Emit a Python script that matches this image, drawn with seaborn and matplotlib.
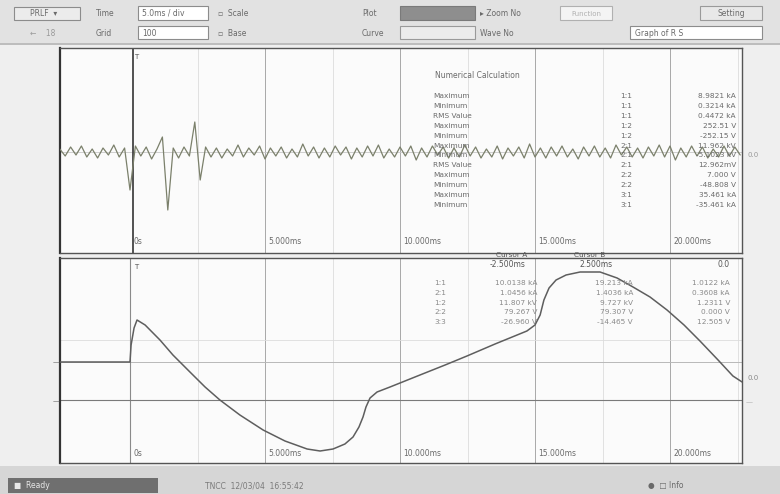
import numpy as np
import pandas as pd
import matplotlib
matplotlib.use("Agg")
import matplotlib.pyplot as plt
import seaborn as sns
from matplotlib.patches import Rectangle

sns.set_theme(style="white")
plt.rcParams['font.family'] = ['DejaVu Sans']

# ---------------- data ----------------
# top channel: noise trace (time in ms, amplitude in div-units)
noise_step_ms = 0.2
noise_v = [0.3, -0.4, 0.5, -0.3, 0.6, -0.5, 0.3, -0.6, 0.4, -0.3, 0.7, -0.5, 0.4,
           -3.8, 0.6, -0.4, 0.5, -0.7, 0.3, 1.5, -5.8, 0.4, -0.6, 0.5, -0.4, 3.0, -2.8, 0.5,
           -0.5, 0.4, -0.6, 0.3, -0.4, 0.7, -0.5, 0.4, -0.3, 0.6,
           -0.7, 0.4, -0.4, 0.5, -0.6, 0.3, -0.5, 0.8, -0.4, 0.5,
           -0.6, 0.4, -0.5, 0.6, -0.3, 0.5, -0.7, 0.4, -0.5, 0.6,
           -0.4, 0.7, -0.6, 0.3, -0.5, 0.5, -0.4, 0.6, -0.8, 0.4,
           -0.5, 0.6, -0.3, 0.5, -0.6, 0.4, -0.5, 0.7, -0.4, 0.5,
           -0.6, 0.3, -0.5, 0.6, -0.7, 0.4, -0.4, 0.5, -0.6, 0.8,
           -0.5, 0.4, -0.6, 0.5, -0.4, 0.6, -0.5, 0.3, -0.7, 0.5,
           -0.4, 0.6, -0.5, 0.4, -0.6, 0.7, -0.3, 0.5, -0.5, 0.4,
           -0.6, 0.5, -0.4, 0.7, -0.5, 0.6, -0.8, 0.4, -0.5, 0.6,
           -0.4, 0.5, -0.6, 0.3, -0.5, 0.6, -0.4, 0.5, -0.3]
noise_t = np.round(-2.6 + noise_step_ms * np.arange(len(noise_v)), 2)

# bottom channel: waveform
wave_t = [-2.59, -0.07, 0.0, 0.04, 0.15, 0.26, 0.56, 1.11, 1.59, 2.22, 2.78, 3.33, 4.07,
          4.93, 5.74, 6.56, 7.04, 7.52, 7.96, 8.26, 8.48, 8.63, 8.74, 8.89, 9.15, 9.63,
          10.0, 10.74, 11.67, 12.48, 13.52, 14.7, 15.0, 15.19, 15.33, 15.52, 15.78, 16.15,
          16.67, 17.41, 18.04, 18.63, 19.26, 19.89, 20.52, 21.11, 21.78, 22.33, 22.67]
wave_v = [3.8, 3.8, 3.8, 5.5, 7.2, 8.0, 7.5, 6.0, 4.5, 2.8, 1.3, 0.0, -1.5,
          -3.0, -4.1, -4.9, -5.1, -4.9, -4.4, -3.7, -2.7, -1.7, -0.7, 0.2, 0.8, 1.3,
          1.7, 2.5, 3.5, 4.4, 5.6, 6.9, 7.5, 8.5, 10.0, 11.2, 12.0, 12.5,
          12.8, 12.8, 12.2, 11.3, 10.3, 9.0, 7.5, 5.9, 4.0, 2.4, 1.8]

tick_ms = [0, 5, 10, 15, 20]
tick_labels = ["0s", "5.000ms", "10.000ms", "15.000ms", "20.000ms"]

calc_names = ["Maximum", "Minimum", "RMS Value", "Maximum", "Minimum", "Maximum",
              "Minimum", "RMS Value", "Maximum", "Minimum", "Maximum", "Minimum"]
calc_ch = ["1:1", "1:1", "1:1", "1:2", "1:2", "2:1", "2:1", "2:1", "2:2", "2:2", "3:1", "3:1"]
calc_vals = ["8.9821 kA", "0.3214 kA", "0.4472 kA", "252.51 V", "-252.15 V", "11.962 kV",
             "-5.1023 kV", "12.962mV", "7.000 V", "-48.808 V", "35.461 kA", "-35.461 kA"]

cur_ch = ["1:1", "2:1", "1:2", "2:2", "3:3"]
cur_a = ["10.0138 kA", "1.0456 kA", "11.807 kV", "79.267 V", "-26.960 V"]
cur_b = ["19.213 kA", "1.4036 kA", "9.727 kV", "79.307 V", "-14.465 V"]
cur_d = ["1.0122 kA", "0.3608 kA", "1.2311 V", "0.000 V", "12.505 V"]

# ---------------- figure ----------------
W, H = 780, 494
fig = plt.figure(figsize=(W / 100, H / 100), dpi=100)
fig.patch.set_facecolor("#efefef")

def fx(x):
    return x / W

def fy(y):
    return 1 - y / H

def rect(x0, y0, x1, y1, fc, ec="none", lw=0.8, z=0):
    fig.patches.append(Rectangle((fx(x0), fy(y1)), fx(x1) - fx(x0), fy(y0) - fy(y1),
                                 transform=fig.transFigure, fc=fc, ec=ec, lw=lw, zorder=z))

def ftext(x, y, s, size=5.5, color="#6a6a6a", ha="left", va="center", **kw):
    fig.text(fx(x), fy(y), s, fontsize=size, color=color, ha=ha, va=va, **kw)

# toolbar
rect(0, 0, 780, 44, "#e2e2e2")
rect(0, 43, 780, 45, "#bdbdbd")
rect(14, 7, 80, 20, "#ececec", "#8c8c8c")
ftext(30, 13.5, "PRLF  ▾", 5.5)
ftext(30, 33, "←    18", 5.5, color="#9a9a9a")
ftext(96, 13.5, "Time", 5.5)
ftext(96, 33, "Grid", 5.5)
rect(138, 6, 208, 20, "white", "#8c8c8c")
ftext(142, 13.5, "5.0ms / div", 5.5)
rect(138, 26, 208, 39, "white", "#8c8c8c")
ftext(142, 33, "100", 5.5)
ftext(218, 13.5, "▫  Scale", 5.5)
ftext(218, 33, "▫  Base", 5.5)
ftext(362, 13.5, "Plot", 5.5)
ftext(362, 33, "Curve", 5.5)
rect(400, 6, 475, 20, "#8e8e8e", "#7a7a7a")
rect(400, 26, 475, 39, "#ececec", "#9a9a9a")
ftext(480, 13.5, "▸ Zoom No", 5.5)
ftext(480, 33, "Wave No", 5.5)
rect(560, 6, 612, 20, "#f4f4f4", "#b0b0b0")
ftext(586, 13.5, "Function", 5.0, color="#b0b0b0", ha="center")
rect(630, 26, 762, 39, "white", "#8c8c8c")
ftext(635, 33, "Graph of R S", 5.5)
rect(700, 6, 762, 20, "#e8e8e8", "#9a9a9a")
ftext(731, 13.5, "Setting", 5.5, ha="center")

# status bar
rect(0, 466, 780, 494, "#d6d6d6")
rect(8, 478, 158, 493, "#6f6f6f")
ftext(14, 485.5, "■  Ready", 5.5, color="#e8e8e8")
ftext(205, 485.5, "TNCC  12/03/04  16:55:42", 5.5, color="#7a7a7a")
ftext(648, 485.5, "●  □ Info", 5.5, color="#6a6a6a")

# ---------------- axes ----------------
xlim = ((60 - 130) / 27, (742 - 130) / 27)
ax_top = fig.add_axes([fx(60), fy(253), fx(742) - fx(60), fy(48) - fy(253)])
ax_bot = fig.add_axes([fx(60), fy(463), fx(742) - fx(60), fy(258) - fy(463)])

grid_major = "#a8a8a8"
grid_minor = "#dcdcdc"
for ax in (ax_top, ax_bot):
    ax.set_facecolor("#fbfbfb")
    ax.set_xlim(*xlim)
    ax.set_xticks([])
    ax.set_yticks([])
    for s in ax.spines.values():
        s.set_color("#555555")
        s.set_linewidth(1.0)
    ax.spines["left"].set_linewidth(1.6)
    ax.spines["left"].set_color("#333333")
    for m in [2.5, 7.5, 12.5, 17.5, 22.5]:
        ax.axvline(m, color=grid_minor, lw=0.6, zorder=0)
    for m in tick_ms[1:]:
        ax.axvline(m, color=grid_major, lw=0.7, zorder=0)

ax_top.set_ylim(-10.1, 10.4)
ax_bot.set_ylim(-6.3, 14.2)

# top trace
df_top = pd.DataFrame({"t": noise_t, "v": noise_v})
ax_top.axvline(0.1, color="#444444", lw=1.3, zorder=1)
ax_top.axhline(0, color="#c8c8c8", lw=0.6, zorder=0)
sns.lineplot(data=df_top, x="t", y="v", ax=ax_top, color="#7b806b", lw=0.9,
             estimator=None, sort=False, zorder=3)
ax_top.set_xlabel("")
ax_top.set_ylabel("")

# bottom trace
df_bot = pd.DataFrame({"t": wave_t, "v": wave_v})
ax_bot.axvline(0.0, color="#8a8a8a", lw=0.8, zorder=1)
ax_bot.axhline(0, color="#7a7a7a", lw=0.8, zorder=1)
ax_bot.axhline(3.8, color="#b8b8b8", lw=0.7, zorder=0)
ax_bot.axhline(6.0, color=grid_minor, lw=0.6, zorder=0)
sns.lineplot(data=df_bot, x="t", y="v", ax=ax_bot, color="#5e5e5e", lw=1.1,
             estimator=None, sort=False, zorder=3)
ax_bot.set_xlabel("")
ax_bot.set_ylabel("")

# time labels
for ax, ytxt in ((ax_top, -9.0), (ax_bot, -5.3)):
    for t, lab in zip(tick_ms, tick_labels):
        ax.text(t + 0.12, ytxt, lab, fontsize=5.5, color="#6a6a6a", ha="left", va="center")
    ax.text(0.15, ax.get_ylim()[1] - 0.9, "T", fontsize=5, color="#555555", ha="left", va="center")

# side markers
ftext(56, 362, "—", 5, color="#555555", ha="center")
ftext(56, 401, "—", 5, color="#555555", ha="center")
ftext(747, 378, "0.0", 5, color="#888888")
ftext(746, 402, "—", 5, color="#aaaaaa")
ftext(748, 155, "0.0", 5, color="#999999")

# numerical calculation table (top panel)
ftext(435, 76, "Numerical Calculation", 5.5)
for i, (n, c, v) in enumerate(zip(calc_names, calc_ch, calc_vals)):
    yy = 96 + i * 9.9
    ftext(433, yy, n, 5.3)
    ftext(626, yy, c, 5.3, ha="center")
    ftext(736, yy, v, 5.3, ha="right")

# cursor table (bottom panel)
ftext(512, 255, "Cursor A", 5.3, color="#555555", ha="center")
ftext(590, 255, "Cursor B", 5.3, color="#555555", ha="center")
ftext(508, 264, "-2.500ms", 5.5, color="#555555", ha="center")
ftext(596, 264, "2.500ms", 5.5, color="#555555", ha="center")
ftext(730, 264, "0.0", 5.5, color="#555555", ha="right")
for i, (c, a, b, d) in enumerate(zip(cur_ch, cur_a, cur_b, cur_d)):
    yy = 283 + i * 9.8
    ftext(440, yy, c, 5.3, color="#8a8a8a", ha="center")
    ftext(537, yy, a, 5.3, color="#8a8a8a", ha="right")
    ftext(633, yy, b, 5.3, color="#8a8a8a", ha="right")
    ftext(730, yy, d, 5.3, color="#8a8a8a", ha="right")

fig.savefig("out.png", dpi=100, facecolor=fig.get_facecolor())
